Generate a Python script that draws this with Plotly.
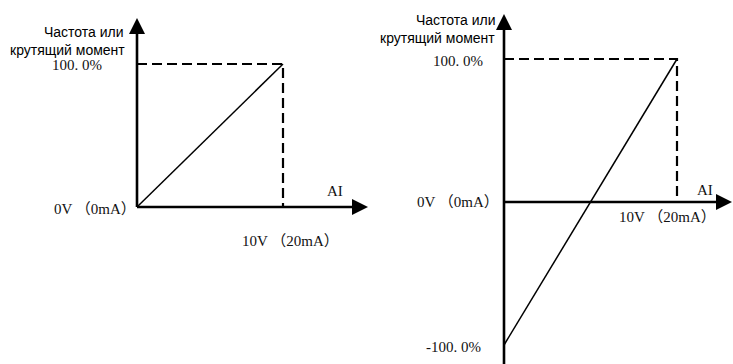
import plotly.graph_objects as go

# ---------------- data ----------------
ai_volts = [0, 10]                 # analog input, V (0..10 V  <->  0..20 mA)
out_unipolar = [0, 100]            # left chart, % of output
out_bipolar = [-100, 100]          # right chart, % of output
ref_level = 100                    # dashed reference level, %
x_zero_label = "0V （0mA）"
x_max_label = "10V （20mA）"
y_max_label = "100. 0%"
y_min_label = "-100. 0%"
x_axis_name = "AI"
y_axis_name = ["Частота или", "крутящий момент"]

# ---------------- layout geometry ----------------
W, H = 733, 364
BLACK = "#000000"
SERIF = "Liberation Serif, 'Noto Sans CJK SC', serif"
SANS = "'Liberation Sans', Arial, sans-serif"

panels = [
    dict(dom=(0, 370), ox=137, oy=207, sx=14.6, sy=1.43, xtip=368, ytip=18, ybot=None,
         out=out_unipolar, xa="x", ya="y"),
    dict(dom=(370, 733), ox=504, oy=202, sx=17.3, sy=1.43, xtip=732, ytip=14, ybot=H,
         out=out_bipolar, xa="x2", ya="y2"),
]

for p in panels:
    p["xr"] = [(p["dom"][0] - p["ox"]) / p["sx"], (p["dom"][1] - p["ox"]) / p["sx"]]
    p["yr"] = [-(H - p["oy"]) / p["sy"], p["oy"] / p["sy"]]


def dx(p, px):
    return (px - p["ox"]) / p["sx"]


def dy(p, py):
    return (p["oy"] - py) / p["sy"]


fig = go.Figure()
annotations = []
ARROW = 16  # arrow head length, px
tf = dict(family=SERIF, size=15, color="#111111")
rf = dict(family=SANS, size=14, color=BLACK)

for i, p in enumerate(panels):
    xa, ya = p["xa"], p["ya"]
    ytip = dy(p, p["ytip"])
    xtip = dx(p, p["xtip"])
    ybot = 0 if p["ybot"] is None else dy(p, p["ybot"])
    common = dict(xaxis=xa, yaxis=ya, hoverinfo="skip", showlegend=False, cliponaxis=False)
    # vertical axis
    fig.add_trace(go.Scatter(x=[0, 0], y=[ybot, ytip - ARROW / p["sy"]], mode="lines",
                             line=dict(color=BLACK, width=2.6), **common))
    # horizontal axis
    fig.add_trace(go.Scatter(x=[0, xtip - ARROW / p["sx"]], y=[0, 0], mode="lines",
                             line=dict(color=BLACK, width=2.6), **common))
    # dashed reference lines
    fig.add_trace(go.Scatter(x=[0, ai_volts[1], ai_volts[1]], y=[ref_level, ref_level, 0],
                             mode="lines", line=dict(color=BLACK, width=2.2, dash="10px,5px"),
                             **common))
    # characteristic line
    fig.add_trace(go.Scatter(x=ai_volts, y=p["out"], mode="lines",
                             line=dict(color=BLACK, width=1.5), **common))
    # arrow heads
    fig.add_trace(go.Scatter(x=[0], y=[ytip], mode="markers",
                             marker=dict(symbol="arrow-up", size=ARROW, color=BLACK,
                                         line=dict(width=0)), **common))
    fig.add_trace(go.Scatter(x=[xtip], y=[0], mode="markers",
                             marker=dict(symbol="arrow-right", size=ARROW, color=BLACK,
                                         line=dict(width=0)), **common))

    ref = dict(xref=xa, yref=ya, showarrow=False)
    if i == 0:
        annotations += [
            dict(x=0, y=ref_level, text=y_max_label, xanchor="right", yanchor="middle",
                 xshift=-33, yshift=-1, font=tf, **ref),
            dict(x=0, y=0, text=x_zero_label, xanchor="right", yanchor="middle",
                 xshift=1, yshift=-2, font=tf, **ref),
            dict(x=ai_volts[1], y=0, text=x_max_label, xanchor="center", yanchor="middle",
                 xshift=7, yshift=-34, font=tf, **ref),
            dict(x=dx(p, 335), y=dy(p, 191), text=x_axis_name, xanchor="center",
                 yanchor="middle", font=tf, **ref),
            dict(x=dx(p, 125), y=dy(p, 41), text=y_axis_name[0], xanchor="right",
                 yanchor="bottom", borderpad=0, font=rf, **ref),
            dict(x=dx(p, 126), y=dy(p, 41), text=y_axis_name[1], xanchor="right",
                 yanchor="top", borderpad=0, font=rf, **ref),
        ]
    else:
        annotations += [
            dict(x=0, y=ref_level, text=y_max_label, xanchor="right", yanchor="middle",
                 xshift=-19, yshift=-2, font=tf, **ref),
            dict(x=0, y=0, text=x_zero_label, xanchor="right", yanchor="middle",
                 xshift=-3, yshift=0, font=tf, **ref),
            dict(x=ai_volts[1], y=0, text=x_max_label, xanchor="center", yanchor="middle",
                 xshift=-10, yshift=-15, font=tf, **ref),
            dict(x=0, y=-ref_level, text=y_min_label, xanchor="right", yanchor="middle",
                 xshift=-21, yshift=-2, font=tf, **ref),
            dict(x=dx(p, 705), y=dy(p, 190), text=x_axis_name, xanchor="center",
                 yanchor="middle", font=tf, **ref),
            dict(x=dx(p, 497), y=dy(p, 29), text=y_axis_name[0], xanchor="right",
                 yanchor="bottom", borderpad=0, font=rf, **ref),
            dict(x=dx(p, 496), y=dy(p, 29), text=y_axis_name[1], xanchor="right",
                 yanchor="top", borderpad=0, font=rf, **ref),
        ]

axis_common = dict(visible=False, fixedrange=True, showgrid=False, zeroline=False)
fig.update_layout(
    width=W, height=H,
    margin=dict(l=0, r=0, t=0, b=0),
    paper_bgcolor="white", plot_bgcolor="white",
    showlegend=False,
    xaxis=dict(domain=[panels[0]["dom"][0] / W, panels[0]["dom"][1] / W],
               range=panels[0]["xr"], anchor="y", **axis_common),
    yaxis=dict(domain=[0, 1], range=panels[0]["yr"], anchor="x", **axis_common),
    xaxis2=dict(domain=[panels[1]["dom"][0] / W, panels[1]["dom"][1] / W],
                range=panels[1]["xr"], anchor="y2", **axis_common),
    yaxis2=dict(domain=[0, 1], range=panels[1]["yr"], anchor="x2", **axis_common),
    annotations=annotations,
)

fig.write_html("out.html", config={"displayModeBar": False},
               post_script="document.body.style.margin='0px';")
